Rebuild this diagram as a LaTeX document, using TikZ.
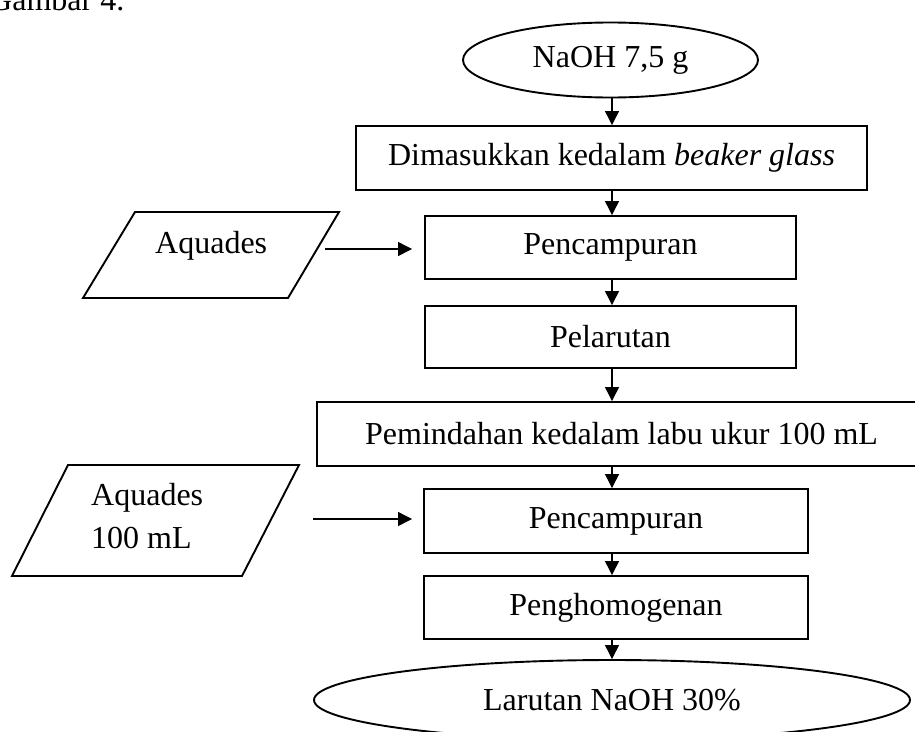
\documentclass[tikz,border=0pt]{standalone}
\usepackage{fontspec}
\setmainfont{Liberation Serif}
\usetikzlibrary{arrows.meta,shapes.geometric}
\tikzset{
  shapeline/.style={draw=black, line width=1.9pt, line join=miter},
  procbox/.style={shapeline, rectangle, inner sep=0pt, font=\fontsize{32}{43}\selectfont},
  termnode/.style={shapeline, ellipse, inner sep=0pt, font=\fontsize{32}{43}\selectfont},
  txt/.style={inner sep=0pt, font=\fontsize{32}{43}\selectfont},
  arr/.style={line width=1.2pt, -{Triangle[length=14pt,width=14pt]}}
}
\begin{document}
\begin{tikzpicture}[x=1pt,y=-1pt]
\useasboundingbox (0,0) rectangle (915,731);
\clip (0,0) rectangle (915,731);
\fill[white] (0,0) rectangle (915,731);

% caption fragment
\node[txt, anchor=base west] (cap) at (-11,10) {Gambar 4.};

% main column
\node[termnode, minimum width=295pt, minimum height=75pt] (start) at (610.5,60) {NaOH 7,5 g};
\node[procbox, minimum width=511pt, minimum height=64pt] (box1) at (611.5,158) {Dimasukkan kedalam \textit{beaker glass}};
\node[procbox, minimum width=371pt, minimum height=63pt] (pc1) at (610.5,247.5) {Pencampuran};
\node[procbox, minimum width=371pt, minimum height=62pt] (pel) at (610.5,337) {Pelarutan};
\node[procbox, minimum width=609pt, minimum height=64pt] (pem) at (621.5,434) {Pemindahan kedalam labu ukur 100 mL};
\node[procbox, minimum width=384pt, minimum height=64pt] (pc2) at (616,521) {Pencampuran};
\node[procbox, minimum width=384pt, minimum height=63pt] (hom) at (616,607.5) {Penghomogenan};
\node[termnode, minimum width=596pt, minimum height=80pt] (fin) at (612,700) {Larutan NaOH 30\%};

\coordinate (col) at (612,0);
\draw[arr] (start.south -| col) -- (box1.north -| col);
\draw[arr] (box1.south -| col) -- (pc1.north -| col);
\draw[arr] (pc1.south -| col) -- (pel.north -| col);
\draw[arr] (pel.south -| col) -- (pem.north -| col);
\draw[arr] (pem.south -| col) -- (pc2.north -| col);
\draw[arr] (pc2.south -| col) -- (hom.north -| col);
\draw[arr] (hom.south -| col) -- (fin.north -| col);

% input 1
\draw[shapeline] (135,212) -- (339,212) -- (288,298) -- (83,298) -- cycle;
\node[txt, anchor=base west] (aq1) at (155,253) {Aquades};
\coordinate (aq1out) at (325,249);
\draw[arr, shorten >=12pt] (aq1out) -- (aq1out -| pc1.west);

% input 2
\draw[shapeline] (68,465) -- (299,465) -- (242,576) -- (12,576) -- cycle;
\node[txt, anchor=north west, align=left] (aq2) at (91,483.4) {Aquades\\100 mL};
\coordinate (aq2out) at (313,519);
\draw[arr, shorten >=11pt] (aq2out) -- (aq2out -| pc2.west);
\end{tikzpicture}
\end{document}
